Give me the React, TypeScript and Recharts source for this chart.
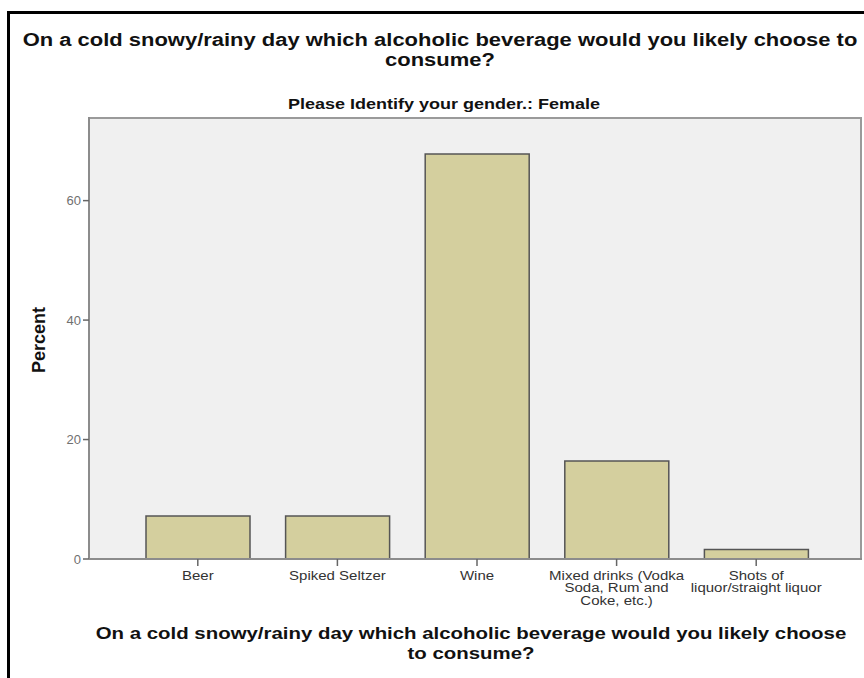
import { Bar, BarChart, CartesianGrid, XAxis, YAxis } from 'recharts';

const categories = [
  'Beer',
  'Spiked Seltzer',
  'Wine',
  'Mixed drinks (Vodka Soda, Rum and Coke, etc.)',
  'Shots of liquor/straight liquor',
];

// wrapped tick labels, same order as categories
const tickLines = [
  ['Beer'],
  ['Spiked Seltzer'],
  ['Wine'],
  ['Mixed drinks (Vodka', 'Soda, Rum and', 'Coke, etc.)'],
  ['Shots of', 'liquor/straight liquor'],
];

const percentValues = [7.2, 7.2, 67.8, 16.4, 1.6];

const yTicks = [0, 20, 40, 60];

const chartTitle = ['On a cold snowy/rainy day which alcoholic beverage would you likely choose to', 'consume?'];
const panelTitle = 'Please Identify your gender.: Female';
const xAxisTitle = ['On a cold snowy/rainy day which alcoholic beverage would you likely choose', 'to consume?'];

const data = categories.map((name, i) => ({ name, percent: percentValues[i] }));

const FONT = '"Liberation Sans", Arial, Helvetica, sans-serif';

// the source image has its text stretched sideways, so squash it back with scaleX
function CategoryTick(props: any) {
  const { x, y, index } = props;
  const lines = tickLines[index] ?? [String(props.payload?.value ?? '')];
  return (
    <g transform={`translate(${x},${y}) scale(1.25,1)`}>
      <text x={0} y={0} textAnchor="middle" fill="#333" fontSize={12} fontFamily={FONT}>
        {lines.map((line: string, i: number) => (
          <tspan key={i} x={0} dy={i === 0 ? 12 : 12.3}>
            {line}
          </tspan>
        ))}
      </text>
    </g>
  );
}

function CenteredLines({ lines, cx, top, size, lineHeight, stretch }: { lines: string[]; cx: number; top: number; size: number; lineHeight: number; stretch: number }) {
  return (
    <div
      style={{
        position: 'absolute',
        left: cx - 500,
        top,
        width: 1000,
        textAlign: 'center',
        fontFamily: FONT,
        fontWeight: 'bold',
        fontSize: size,
        lineHeight: `${lineHeight}px`,
        color: '#111',
        whiteSpace: 'nowrap',
        transform: `scaleX(${stretch})`,
        transformOrigin: 'center',
      }}
    >
      {lines.map((l) => (
        <div key={l}>{l}</div>
      ))}
    </div>
  );
}

export default function App() {
  return (
    <div style={{ position: 'absolute', left: 0, top: 0, width: 864, height: 678, background: '#fff', overflow: 'hidden' }}>
      <div style={{ position: 'absolute', left: 7, top: 11, width: 900, height: 700, borderLeft: '3px solid #000', borderTop: '3px solid #000' }} />
      <CenteredLines lines={chartTitle} cx={440} top={30} size={18} lineHeight={20} stretch={1.22} />
      <CenteredLines lines={[panelTitle]} cx={444} top={95} size={15} lineHeight={18} stretch={1.2} />
      <CenteredLines lines={xAxisTitle} cx={471} top={624} size={17} lineHeight={20} stretch={1.2} />
      <div style={{ position: 'absolute', left: 0, top: 0 }}>
        <BarChart width={864} height={678} data={data} margin={{ top: 117, right: 2, left: 29, bottom: 59 }} barCategoryGap={18}>
          <CartesianGrid fill="#f0f0f0" horizontal={false} vertical={false} />
          <CartesianGrid horizontalPoints={[118]} verticalPoints={[861]} stroke="#9a9a9a" strokeWidth={2} />
          <XAxis
            dataKey="name"
            height={60}
            padding={{ left: 39, right: 36 }}
            interval={0}
            tickSize={7}
            tickLine={{ stroke: '#666', strokeWidth: 1.5 }}
            axisLine={{ stroke: '#8c8c8c', strokeWidth: 2 }}
            tick={<CategoryTick />}
          />
          <YAxis
            width={60}
            domain={[0, 74]}
            ticks={yTicks}
            tickSize={6}
            tickMargin={2}
            tickLine={{ stroke: '#666', strokeWidth: 1.5 }}
            axisLine={{ stroke: '#8c8c8c', strokeWidth: 2 }}
            tick={{ fill: '#707070', fontSize: 13, fontFamily: FONT }}
            label={{
              value: 'Percent',
              content: () => (
                <text x={39} y={340} transform="rotate(-90 39 340)" textAnchor="middle" dominantBaseline="central" fontSize={18} fontWeight="bold" fontFamily={FONT} fill="#111">
                  Percent
                </text>
              ),
            }}
          />
          <Bar dataKey="percent" fill="#d4cf9e" stroke="#555" strokeWidth={1.5} isAnimationActive={false} />
        </BarChart>
      </div>
    </div>
  );
}
